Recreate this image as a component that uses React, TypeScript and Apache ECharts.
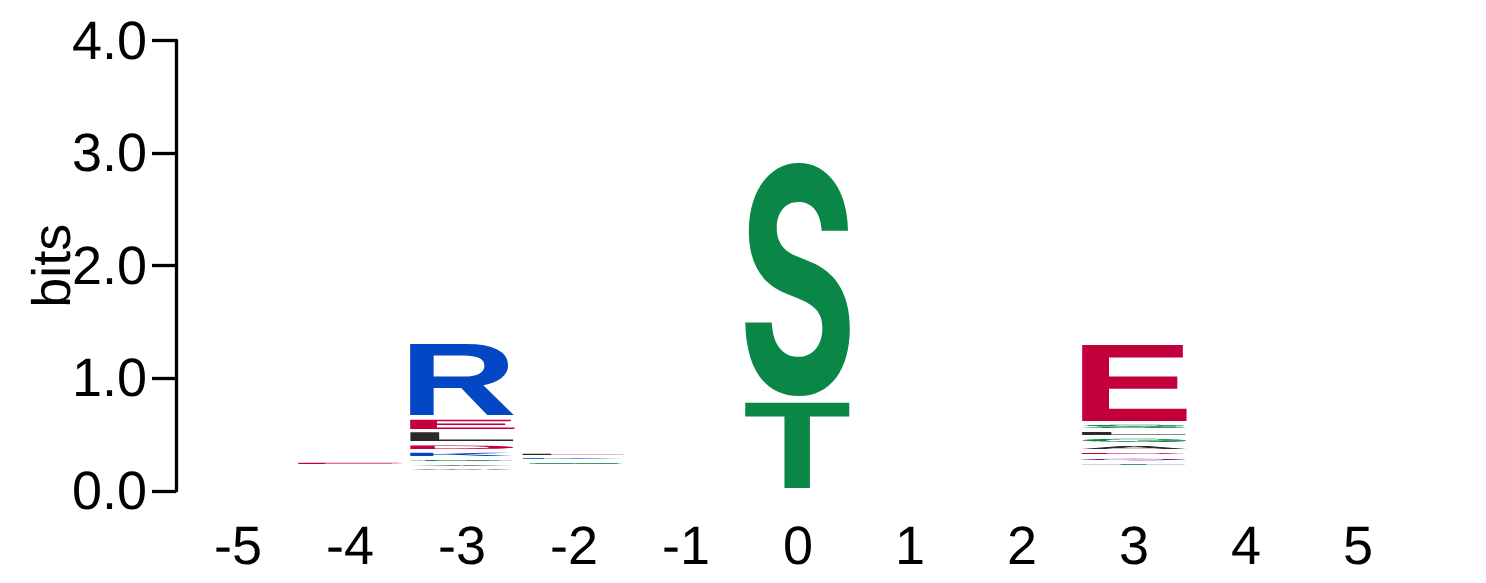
import React, { useEffect, useRef } from "react";
import * as echarts from "echarts";

// x categories (sequence positions)
const positions = ["-5", "-4", "-3", "-2", "-1", "0", "1", "2", "3", "4", "5"];
// y tick values (bits)
const yTicks = [0, 1, 2, 3, 4];
// height taken at each column's bottom by letters too thin to be drawn
const columnBase = [0, 0.223, 0.165, 0.219, 0, 0.003, 0, 0, 0.214, 0, 0];
// letters of each column, bottom to top
const columnLetters: string[][] = [
  [],
  ["E"],
  ["W", "A", "G", "K", "D", "L", "E", "R"],
  ["S", "K", "L"],
  [],
  ["T", "S"],
  [],
  [],
  ["T", "Q", "D", "A", "G", "L", "S", "E"],
  [],
  [],
];
// letter heights in bits, same order
const columnHeights: number[][] = [
  [],
  [0.047],
  [0.04, 0.04, 0.045, 0.064, 0.067, 0.113, 0.119, 0.668],
  [0.042, 0.042, 0.047],
  [],
  [0.795, 2.14],
  [],
  [],
  [0.042, 0.05, 0.045, 0.062, 0.066, 0.062, 0.065, 0.712],
  [],
  [],
];

const BLUE = "#0447c4";
const RED = "#c4003c";
const GREEN = "#0a8647";
const BLACK = "#2a2a2a";
const PURPLE = "#7a0a9c";
const letterColors: Record<string, string> = {
  R: BLUE, K: BLUE, H: BLUE,
  E: RED, D: RED,
  S: GREEN, T: GREEN, G: GREEN, Y: GREEN, C: GREEN,
  Q: PURPLE, N: PURPLE,
  A: BLACK, V: BLACK, L: BLACK, I: BLACK, P: BLACK, W: BLACK, F: BLACK, M: BLACK,
};

const FONT_FAMILY = "Liberation Sans";
const letterFont: Record<string, string> = { S: "Inter", G: "Inter" };
const LOGO_FONT_SIZE = 100;

type Metric = { left: number; w: number; ascent: number; h: number; c: number; family: string };

function centralOffset(font: string): number {
  const NS = "http://www.w3.org/2000/svg";
  const svg = document.createElementNS(NS, "svg");
  svg.setAttribute("width", "400");
  svg.setAttribute("height", "400");
  (svg as any).style.position = "absolute";
  (svg as any).style.left = "-5000px";
  (svg as any).style.top = "0px";
  (svg as any).style.textRendering = "geometricPrecision";
  const t1 = document.createElementNS(NS, "text");
  const t2 = document.createElementNS(NS, "text");
  [t1, t2].forEach((t, i) => {
    t.setAttribute("x", "10");
    t.setAttribute("y", "200");
    t.setAttribute("style", `font: ${font}; text-rendering: geometricPrecision`);
    t.setAttribute("dominant-baseline", i === 0 ? "alphabetic" : "central");
    t.textContent = "E";
    svg.appendChild(t);
  });
  document.body.appendChild(svg);
  let c = 0.35 * LOGO_FONT_SIZE;
  try {
    c = (t2 as any).getBBox().y - (t1 as any).getBBox().y;
  } catch (e) {}
  document.body.removeChild(svg);
  return c;
}

function measureLetters(letters: string[]): Record<string, Metric> {
  const canvas = document.createElement("canvas");
  const ctx = canvas.getContext("2d")! as any;
  const cache: Record<string, number> = {};
  const out: Record<string, Metric> = {};
  letters.forEach((l) => {
    const family = letterFont[l] || FONT_FAMILY;
    const font = `bold ${LOGO_FONT_SIZE}px ${family}`;
    if (cache[family] === undefined) cache[family] = centralOffset(font);
    ctx.font = font;
    ctx.textBaseline = "alphabetic";
    ctx.textAlign = "left";
    try {
      ctx.textRendering = "geometricPrecision";
    } catch (e) {}
    const m = ctx.measureText(l);
    out[l] = {
      left: m.actualBoundingBoxLeft,
      w: m.actualBoundingBoxLeft + m.actualBoundingBoxRight,
      ascent: m.actualBoundingBoxAscent,
      h: m.actualBoundingBoxAscent + m.actualBoundingBoxDescent,
      c: cache[family],
      family,
    };
  });
  return out;
}

export default function App() {
  const ref = useRef<HTMLDivElement>(null);
  useEffect(() => {
    if (!ref.current) return;
    const rows: { col: number; y0: number; y1: number; letter: string }[] = [];
    columnLetters.forEach((letters, col) => {
      let acc = columnBase[col];
      letters.forEach((letter, i) => {
        const h = columnHeights[col][i];
        rows.push({ col, y0: acc, y1: acc + h, letter });
        acc += h;
      });
    });
    const metrics = measureLetters(Object.keys(letterColors));
    const padX = 3;
    const padY = 2;

    const chart = echarts.init(ref.current, undefined, { renderer: "svg" });
    chart.setOption({
      animation: false,
      backgroundColor: "#ffffff",
      grid: {
        left: 182,
        right: 72,
        top: 40.5,
        bottom: 92.2,
        containLabel: false,
        outerBoundsMode: "none",
      },
      xAxis: {
        type: "category",
        data: positions,
        boundaryGap: true,
        axisLine: { show: false },
        axisTick: { show: false },
        splitLine: { show: false },
        axisLabel: {
          interval: 0,
          margin: 28,
          fontSize: 54,
          fontFamily: FONT_FAMILY,
          color: "#000000",
        },
      },
      yAxis: {
        type: "value",
        min: yTicks[0],
        max: yTicks[yTicks.length - 1],
        interval: 1,
        offset: 6,
        name: "bits",
        nameLocation: "middle",
        nameRotate: 90,
        nameGap: 97,
        nameMoveOverlap: false,
        nameTextStyle: { fontSize: 54, fontFamily: FONT_FAMILY, color: "#000000" },
        axisLine: { show: true, lineStyle: { color: "#000000", width: 3.3 } },
        axisTick: { show: true, length: 24, lineStyle: { color: "#000000", width: 3.3 } },
        splitLine: { show: false },
        axisLabel: {
          margin: 29,
          fontSize: 54,
          fontFamily: FONT_FAMILY,
          color: "#000000",
          formatter: (v: number) => v.toFixed(1),
        },
      },
      series: [
        {
          type: "custom",
          clip: false,
          data: rows.map((r) => [r.col, r.y0, r.y1]),
          encode: { x: 0, y: [1, 2] },
          renderItem: (params: any, api: any) => {
            const row = rows[params.dataIndex];
            const col = api.value(0);
            const p0 = api.coord([col, api.value(1)]);
            const p1 = api.coord([col, api.value(2)]);
            const bw = api.size([1, 0])[0];
            const X0 = p0[0] - bw / 2 + padX;
            const X1 = p0[0] + bw / 2 - padX;
            const Y0 = p1[1] + padY;
            const Y1 = p0[1] - padY;
            if (Y1 - Y0 <= 0.2) return null;
            const m = metrics[row.letter];
            const sx = (X1 - X0) / m.w;
            const sy = (Y1 - Y0) / m.h;
            return {
              type: "text",
              x: X0 + sx * m.left,
              y: Y0 - sy * (m.c - m.ascent),
              scaleX: sx,
              scaleY: sy,
              style: {
                text: row.letter,
                x: 0,
                y: 0,
                fontSize: LOGO_FONT_SIZE,
                fontFamily: m.family,
                fontWeight: "bold",
                fill: letterColors[row.letter],
                textAlign: "left",
                textVerticalAlign: "middle",
              },
            };
          },
        },
      ],
    });
    return () => chart.dispose();
  }, []);
  return (
    <div
      ref={ref}
      style={{
        position: "absolute",
        left: 0,
        top: 0,
        width: 1486,
        height: 583,
        textRendering: "geometricPrecision",
      }}
    />
  );
}
